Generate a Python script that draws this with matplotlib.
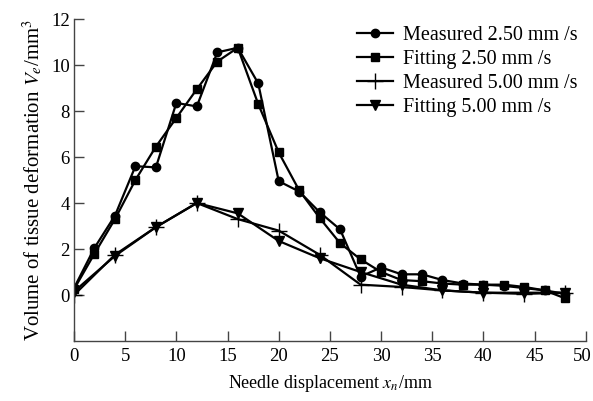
import numpy as np
import matplotlib
matplotlib.use('Agg')
import matplotlib.pyplot as plt
import matplotlib.transforms as mtransforms

plt.rcParams['font.family'] = 'serif'
plt.rcParams['font.serif'] = ['Liberation Serif', 'DejaVu Serif']
plt.rcParams['mathtext.fontset'] = 'stix'

# speed 2.50 mm/s sampled every 2 mm, speed 5.00 mm/s every 4 mm
x25 = np.arange(0, 50, 2)
meas25 = [0.3, 2.05, 3.45, 5.6, 5.55, 8.35, 8.2, 10.55, 10.75, 9.2, 4.95, 4.5,
          3.6, 2.85, 0.8, 1.2, 0.9, 0.9, 0.65, 0.5, 0.45, 0.4, 0.3, 0.2, 0.05]
fit25 = [0.25, 1.8, 3.3, 5.0, 6.45, 7.7, 8.95, 10.15, 10.75, 8.3, 6.2, 4.55,
         3.35, 2.25, 1.55, 1.0, 0.65, 0.6, 0.5, 0.45, 0.45, 0.45, 0.35, 0.2, -0.15]
x50 = np.arange(0, 50, 4)
meas50 = [0.0, 1.75, 2.95, 4.0, 3.3, 2.8, 1.75, 0.45, 0.35, 0.2, 0.1, 0.05, 0.1]
fit50 = [0.15, 1.7, 2.95, 4.0, 3.55, 2.35, 1.6, 1.0, 0.45, 0.2, 0.1, 0.1, 0.1]

fig = plt.figure(figsize=(5.93, 4.01), dpi=100)
ax = fig.add_axes([0.1248, 0.1496, 0.863, 0.803])

lw = 1.6
ax.plot(x25, meas25, color='black', lw=lw, marker='o', ms=6, label='Measured 2.50 mm /s')
ax.plot(x25, fit25, color='black', lw=lw, marker='s', ms=6, label='Fitting 2.50 mm /s')
ax.plot(x50, meas50, color='black', lw=lw, marker='+', ms=11, mew=1.0, label='Measured 5.00 mm /s')
ax.plot(x50, fit50, color='black', lw=lw, marker='v', ms=6.5, label='Fitting 5.00 mm /s')

ax.set_xlim(0, 50)
ax.set_ylim(-2, 12)
ax.set_xticks(np.arange(0, 51, 5))
ax.set_yticks(np.arange(0, 13, 2))
for s in ['top', 'right']:
    ax.spines[s].set_visible(False)
for s in ['left', 'bottom']:
    ax.spines[s].set_color('#444444')
    ax.spines[s].set_linewidth(1.0)
ax.tick_params(direction='in', length=7, width=1.0, color='#444444', labelsize=13.5)
ax.tick_params(axis='x', pad=5)
ax.tick_params(axis='y', pad=3)

# keep the last x tick label inside the canvas
last = ax.get_xticklabels()[-1]
last.set_transform(last.get_transform() + mtransforms.ScaledTranslation(-4/100, 0, fig.dpi_scale_trans))

ax.set_xlabel('Needle displacement $x_n$/mm', fontsize=13, labelpad=6)
ax.set_ylabel('Volume of tissue deformation $V_e$/mm$^3$', fontsize=15, labelpad=4)

ax.legend(loc='upper right', bbox_to_anchor=(1.02, 1.035), frameon=False, fontsize=14.5,
          handlelength=1.8, labelspacing=0.25, handletextpad=0.5)

fig.savefig('out.png', dpi=100)
